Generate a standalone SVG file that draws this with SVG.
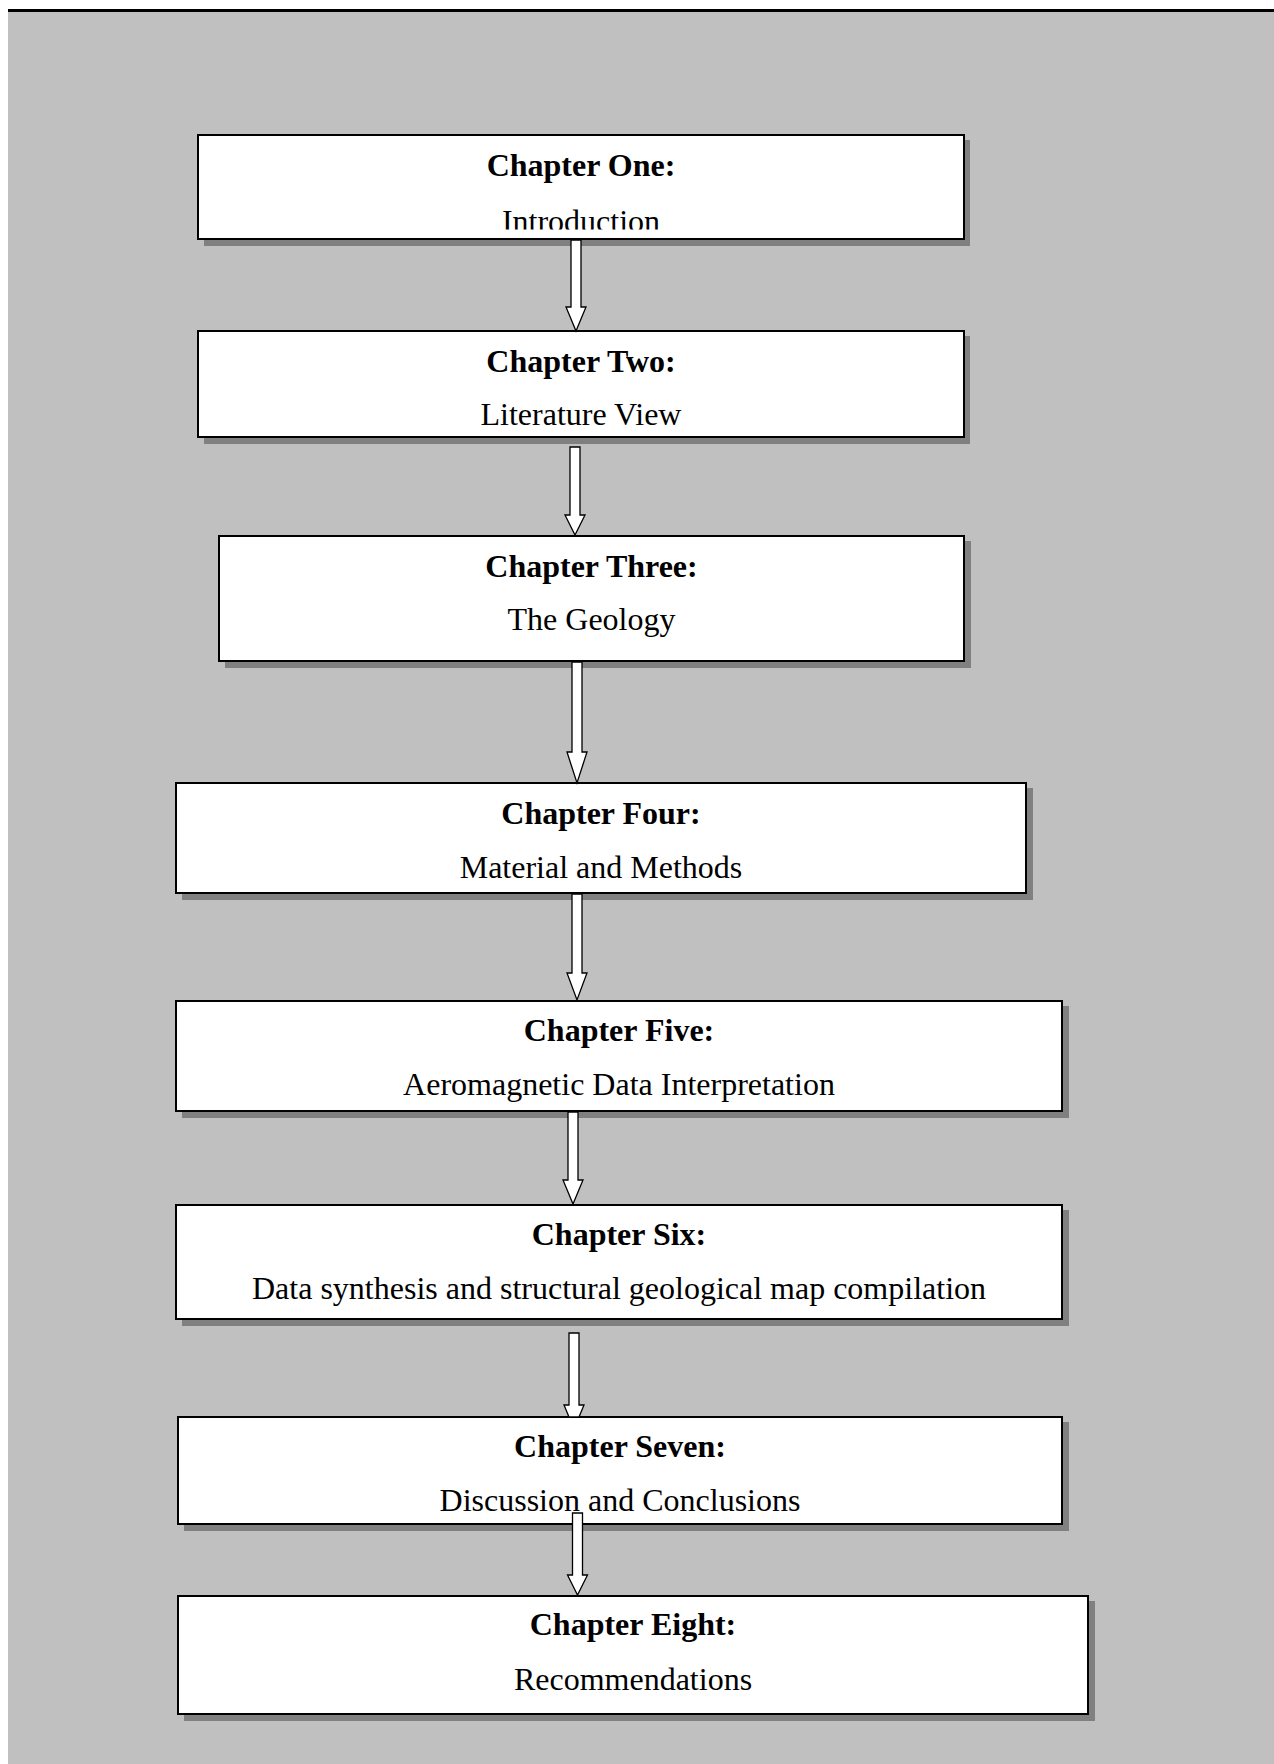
<svg xmlns="http://www.w3.org/2000/svg" width="1274" height="1764" viewBox="0 0 1274 1764">
<defs>
<style>
.box{fill:#ffffff;stroke:#000000;stroke-width:2}
.sh{fill:#808080}
.t{font-family:"Liberation Serif","Times New Roman",serif;font-size:32px;font-weight:bold;text-anchor:middle;fill:#000}
.s{font-family:"Liberation Serif","Times New Roman",serif;font-size:32px;text-anchor:middle;fill:#000}
.arr{fill:#ffffff;stroke:#000000;stroke-width:1.3;stroke-linejoin:miter}
</style>
<clipPath id="clip1"><rect x="198" y="135" width="766" height="94.5"/></clipPath>
</defs>
<rect x="0" y="0" width="1274" height="1764" fill="#ffffff"/>
<rect x="8" y="12" width="1266" height="1752" fill="#c0c0c0"/>
<rect x="8" y="9" width="1266" height="3" fill="#000000"/>

<g id="node1">
<rect class="sh" x="204" y="140" width="766" height="106"/>
<rect class="box" x="198" y="135" width="766" height="104"/>
<text class="t" x="581" y="176">Chapter One:</text>
<text class="s" x="581" y="232" clip-path="url(#clip1)">Introduction</text>
</g>
<g id="node2">
<rect class="sh" x="204" y="336" width="766" height="108"/>
<rect class="box" x="198" y="331" width="766" height="106"/>
<text class="t" x="581" y="372">Chapter Two:</text>
<text class="s" x="581" y="425">Literature View</text>
</g>
<g id="node3">
<rect class="sh" x="225" y="541" width="746" height="127"/>
<rect class="box" x="219" y="536" width="745" height="125"/>
<text class="t" x="591.5" y="577">Chapter Three:</text>
<text class="s" x="591.5" y="630">The Geology</text>
</g>
<g id="node4">
<rect class="sh" x="182" y="788" width="851" height="112"/>
<rect class="box" x="176" y="783" width="850" height="110"/>
<text class="t" x="601" y="824">Chapter Four:</text>
<text class="s" x="601" y="878">Material and Methods</text>
</g>
<g id="node5">
<rect class="sh" x="182" y="1006" width="887" height="112"/>
<rect class="box" x="176" y="1001" width="886" height="110"/>
<text class="t" x="619" y="1041">Chapter Five:</text>
<text class="s" x="619" y="1095">Aeromagnetic Data Interpretation</text>
</g>
<g id="node6">
<rect class="sh" x="182" y="1210" width="887" height="116"/>
<rect class="box" x="176" y="1205" width="886" height="114"/>
<text class="t" x="619" y="1245">Chapter Six:</text>
<text class="s" x="619" y="1299">Data synthesis and structural geological map compilation</text>
</g>
<g id="node7">
<rect class="sh" x="184" y="1422" width="885" height="109"/>
<rect class="box" x="178" y="1417" width="884" height="107"/>
<text class="t" x="620" y="1457">Chapter Seven:</text>
<text class="s" x="620" y="1511">Discussion and Conclusions</text>
</g>
<g id="node8">
<rect class="sh" x="184" y="1601" width="911" height="120"/>
<rect class="box" x="178" y="1596" width="910" height="118"/>
<text class="t" x="633" y="1635">Chapter Eight:</text>
<text class="s" x="633" y="1690">Recommendations</text>
</g>

<g id="connectors">
<polygon class="arr" points="571,240 581,240 581,307 586,307 576,331 566,307 571,307"/>
<polygon class="arr" points="570,447 580,447 580,515 585,515 575,535 565,515 570,515"/>
<polygon class="arr" points="572,662 582,662 582,752 587,752 577,783 567,752 572,752"/>
<polygon class="arr" points="572,894 582,894 582,973 587,973 577,1000 567,973 572,973"/>
<polygon class="arr" points="568,1112 578,1112 578,1180 583,1180 573,1204 563,1180 568,1180"/>
<polygon class="arr" points="569,1333 579,1333 579,1405 584,1405 579,1417 569,1417 564,1405 569,1405"/>
<polygon class="arr" points="572.5,1513 582.5,1513 582.5,1575 587.5,1575 577.5,1595 567.5,1575 572.5,1575"/>
</g>
</svg>
